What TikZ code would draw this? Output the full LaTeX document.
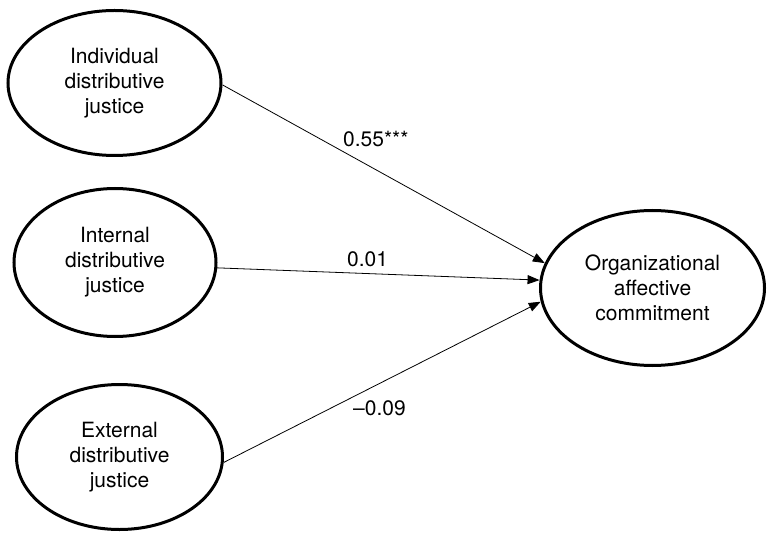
\documentclass[tikz,border=0pt]{standalone}
\usepackage{fontspec}
\setmainfont{TeX Gyre Heros}
\usetikzlibrary{arrows.meta,shapes.geometric}
\tikzset{
  construct/.style={ellipse, draw=black, line width=3pt, align=center, inner sep=0pt,
    font=\fontsize{21}{25}\selectfont},
  pathline/.style={line width=0.8pt, -{Triangle[length=12pt,width=9pt]}},
  coef/.style={inner sep=0pt, anchor=base west, font=\fontsize{21}{25}\selectfont}
}
\begin{document}
\begin{tikzpicture}[x=1pt,y=-1pt]
\useasboundingbox (0,0) rectangle (767,534);
\node[construct, minimum width=213pt, minimum height=145pt] (ind) at (114.5,83) {Individual\\distributive\\justice};
\node[construct, minimum width=202pt, minimum height=148pt] (int) at (115,262.5) {Internal\\distributive\\justice};
\node[construct, minimum width=206pt, minimum height=145pt] (ext) at (119.5,457) {External\\distributive\\justice};
\node[construct, minimum width=224pt, minimum height=155pt] (oac) at (652.5,288) {Organizational\\affective\\commitment};
\draw[pathline] (ind.-1) -- (oac.167);
\draw[pathline] (int.-3) -- (oac.176.5);
\draw[pathline] (ext.-3) -- (oac.187);
\node[coef] (c1) at (343,147) {0.55***};
\node[coef] (c2) at (347,266) {0.01};
\node[coef] (c3) at (353,415) {–0.09};
\end{tikzpicture}
\end{document}
